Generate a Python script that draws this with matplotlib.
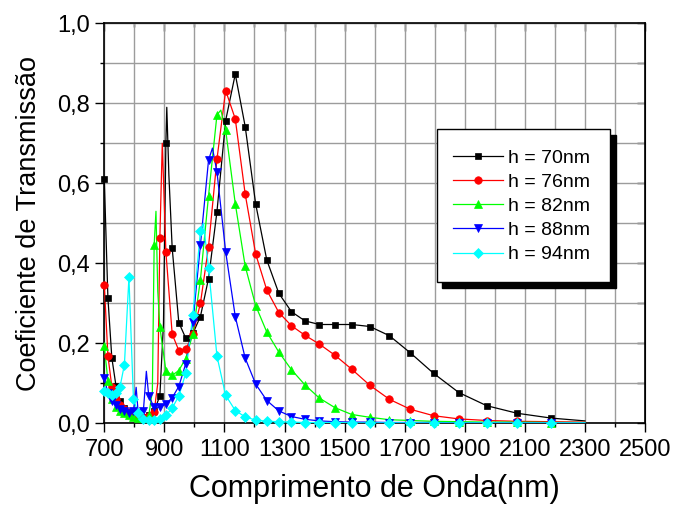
import matplotlib
matplotlib.use("Agg")
import matplotlib.pyplot as plt
from matplotlib.lines import Line2D
from matplotlib.patches import Rectangle
from matplotlib.ticker import MultipleLocator, FixedLocator, FuncFormatter

plt.rcParams['font.family'] = ['Liberation Sans', 'DejaVu Sans']

# sampled wavelengths (nm), shared by all thicknesses
wavelength = [700, 712, 725, 739, 752, 767, 782, 797, 813, 830, 848, 866, 885, 905,
              926, 948, 971, 995, 1020, 1047, 1075, 1104, 1136, 1169, 1204, 1241,
              1281, 1323, 1368, 1416, 1468, 1524, 1584, 1649, 1719, 1796, 1880,
              1973, 2075, 2188]

t_70 = [0.610, 0.314, 0.164, 0.093, 0.057, 0.038, 0.029, 0.022, 0.018, 0.017, 0.020,
        0.030, 0.069, 0.700, 0.438, 0.252, 0.213, 0.225, 0.267, 0.362, 0.529, 0.757,
        0.873, 0.742, 0.548, 0.408, 0.325, 0.279, 0.256, 0.247, 0.247, 0.247, 0.242,
        0.219, 0.176, 0.125, 0.077, 0.044, 0.025, 0.013]
t_76 = [0.346, 0.169, 0.092, 0.060, 0.045, 0.035, 0.028, 0.020, 0.016, 0.015, 0.018,
        0.029, 0.464, 0.429, 0.223, 0.182, 0.185, 0.223, 0.300, 0.442, 0.660, 0.832,
        0.761, 0.573, 0.423, 0.333, 0.277, 0.244, 0.220, 0.198, 0.170, 0.135, 0.095,
        0.060, 0.035, 0.019, 0.011, 0.007, 0.005, 0.004]
t_82 = [0.193, 0.106, 0.060, 0.042, 0.032, 0.026, 0.021, 0.017, 0.014, 0.013, 0.020,
        0.446, 0.240, 0.132, 0.120, 0.132, 0.162, 0.224, 0.359, 0.569, 0.771, 0.733,
        0.549, 0.393, 0.294, 0.228, 0.178, 0.134, 0.096, 0.063, 0.039, 0.022, 0.015,
        0.009, 0.007, 0.005, 0.004, 0.003, 0.003, 0.002]
t_88 = [0.113, 0.075, 0.055, 0.045, 0.037, 0.031, 0.027, 0.030, 0.025, 0.030, 0.068,
        0.040, 0.040, 0.048, 0.064, 0.092, 0.149, 0.253, 0.446, 0.658, 0.629, 0.429,
        0.267, 0.163, 0.098, 0.057, 0.031, 0.017, 0.010, 0.006, 0.004, 0.003, 0.003,
        0.002, 0.002, 0.002, 0.001, 0.001, 0.001, 0.001]
t_94 = [0.080, 0.075, 0.070, 0.075, 0.090, 0.147, 0.365, 0.061, 0.025, 0.012, 0.008,
        0.008, 0.012, 0.020, 0.038, 0.068, 0.125, 0.272, 0.481, 0.389, 0.168, 0.070,
        0.032, 0.016, 0.008, 0.005, 0.004, 0.003, 0.002, 0.002, 0.002, 0.001, 0.001,
        0.001, 0.001, 0.001, 0.001, 0.001, 0.001, 0.001]

# extra points of the calculated curves between the marked samples (peaks, spikes, end)
extra_70_x = [897, 908, 915, 2300]
extra_70_y = [0.250, 0.790, 0.620, 0.006]
extra_76_x = [878, 893, 2300]
extra_76_y = [0.100, 0.700, 0.003]
extra_82_x = [860, 872, 878, 1088, 2300]
extra_82_y = [0.080, 0.530, 0.330, 0.783, 0.002]
extra_88_x = [806, 840, 1060, 2300]
extra_88_y = [0.090, 0.130, 0.688, 0.001]
extra_94_x = [1030, 2300]
extra_94_y = [0.500, 0.001]

x_ticks = [700, 900, 1100, 1300, 1500, 1700, 1900, 2100, 2300, 2500]

labels = ['h = 70nm', 'h = 76nm', 'h = 82nm', 'h = 88nm', 'h = 94nm']
colors = ['#000000', '#ff0000', '#00ff00', '#0000ff', '#00ffff']
markers = ['s', 'o', '^', 'v', 'D']
msizes = [5.0, 5.4, 6.0, 6.0, 4.8]

series = [
    (t_70, extra_70_x, extra_70_y),
    (t_76, extra_76_x, extra_76_y),
    (t_82, extra_82_x, extra_82_y),
    (t_88, extra_88_x, extra_88_y),
    (t_94, extra_94_x, extra_94_y),
]

fig = plt.figure(figsize=(6.75, 5.07), dpi=100)
ax = fig.add_axes([104.3 / 675, 1 - 423.3 / 507, (645 - 104.3) / 675, 400 / 507])

handles = []
for (vals, ex, ey), lab, c, m, ms in zip(series, labels, colors, markers, msizes):
    pts = sorted(zip(wavelength + ex, vals + ey))
    ax.plot([p[0] for p in pts], [p[1] for p in pts], color=c, lw=0.9, zorder=3)
    ax.plot(wavelength, vals, ls='none', marker=m, ms=ms, color=c,
            markeredgewidth=0.5, zorder=4, clip_on=False)
    handles.append(Line2D([], [], color=c, lw=0.9, marker=m, ms=ms, markeredgewidth=0.5))

ax.set_xlim(700, 2500)
ax.set_ylim(0, 1.0)
ax.xaxis.set_major_locator(FixedLocator(x_ticks))
ax.xaxis.set_minor_locator(MultipleLocator(100))
ax.yaxis.set_major_locator(MultipleLocator(0.2))
ax.yaxis.set_minor_locator(MultipleLocator(0.1))
ax.yaxis.set_major_formatter(FuncFormatter(lambda v, p: f"{v:.1f}".replace('.', ',')))

ax.grid(True, which='both', color='#9c9c9c', lw=1.0)
ax.set_axisbelow(True)
for s in ax.spines.values():
    s.set_linewidth(1.2)

ax.tick_params(axis='both', which='major', direction='out', length=6.5, width=1.0,
               labelsize=17)
ax.tick_params(axis='both', which='minor', direction='out', length=3, width=1.0)
ax.tick_params(axis='x', which='major', pad=4.5)
ax.tick_params(axis='y', which='major', pad=4)

top = ax.secondary_xaxis('top')
top.xaxis.set_major_locator(FixedLocator(x_ticks))
top.xaxis.set_minor_locator(MultipleLocator(100))
top.tick_params(which='major', direction='in', length=6, width=1.0, labeltop=False)
top.tick_params(which='minor', direction='in', length=3, width=1.0)
right = ax.secondary_yaxis('right')
right.yaxis.set_major_locator(MultipleLocator(0.1))
right.tick_params(which='major', direction='in', length=6, width=1.0, labelright=False)

ax.set_xlabel('Comprimento de Onda(nm)', fontsize=22, labelpad=10)
ax.set_ylabel('Coeficiente de Transmissão', fontsize=19.5, labelpad=11)

# legend box with a solid drop shadow
W, H = 675, 507
bx0, bx1, by0, by1 = 436.7, 610.0, 129.3, 282.3
fig.add_artist(Rectangle(((bx0 + 5.5) / W, 1 - (by1 + 5.5) / H), (bx1 - bx0) / W,
                         (by1 - by0) / H, transform=fig.transFigure,
                         facecolor='black', edgecolor='black', zorder=3))
fig.add_artist(Rectangle((bx0 / W, 1 - by1 / H), (bx1 - bx0) / W, (by1 - by0) / H,
                         transform=fig.transFigure, facecolor='white',
                         edgecolor='black', lw=1.0, zorder=4))
leg = fig.legend(handles, labels, loc='upper left', bbox_to_anchor=(453 / W, 1 - 149 / H),
                 bbox_transform=fig.transFigure, frameon=False, fontsize=14,
                 handlelength=2.55, handletextpad=0.3, labelspacing=0.34,
                 borderpad=0, borderaxespad=0)
leg.set_zorder(6)

fig.savefig('out.png', dpi=100)
